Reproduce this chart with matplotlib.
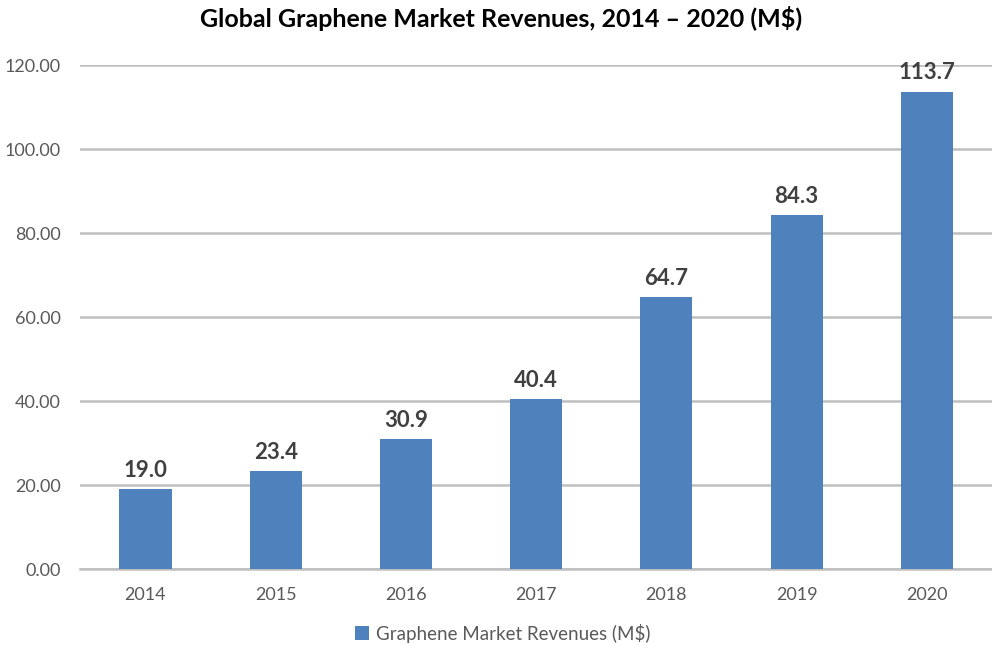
import matplotlib.pyplot as plt

# Chart data
years = ["2014", "2015", "2016", "2017", "2018", "2019", "2020"]
revenues = [19.0, 23.4, 30.9, 40.4, 64.7, 84.3, 113.7]
y_ticks = [0, 20, 40, 60, 80, 100, 120]

plt.rcParams['font.family'] = ['Lato', 'DejaVu Sans']

fig = plt.figure(figsize=(9.92, 6.46), dpi=100)
ax = fig.add_axes([0.081, 0.119, 0.919, 0.78])

x = range(len(years))
bars = ax.bar(x, revenues, width=0.40, color="#4f81bd", zorder=3,
              label="Graphene Market Revenues (M$)")

# Value labels on top of the bars
for i, v in zip(x, revenues):
    ax.annotate(f"{v:.1f}", (i, v), xytext=(0, 6), textcoords="offset points",
                ha="center", va="bottom", fontsize=16, fontweight="bold",
                color="#404040", zorder=4)

ax.set_xlim(-0.5, len(years) - 0.5)
ax.set_ylim(0, 120)
ax.set_xticks(list(x))
ax.set_xticklabels(years)
ax.set_yticks(y_ticks)
ax.set_yticklabels([f"{t:.2f}" for t in y_ticks])
ax.tick_params(axis="both", length=0, labelsize=13, labelcolor="#595959")
ax.tick_params(axis="x", pad=13)
ax.tick_params(axis="y", pad=14)

ax.grid(axis="y", color="#bfbfbf", linewidth=1.8, zorder=0)
for side in ["top", "right", "left"]:
    ax.spines[side].set_visible(False)
ax.spines["bottom"].set_color("#bfbfbf")
ax.spines["bottom"].set_linewidth(1.8)

fig.text(0.505, 0.972, "Global Graphene Market Revenues, 2014 \u2013 2020 (M$)",
         ha="center", va="center", fontsize=18, fontweight="bold", color="black")

fig.legend(handles=[bars], labels=["Graphene Market Revenues (M$)"],
           loc="center", bbox_to_anchor=(0.507, 0.02), frameon=False,
           fontsize=13.5, labelcolor="#595959",
           handlelength=0.7, handleheight=0.7, handletextpad=0.4)

fig.savefig("out.png", dpi=100)
